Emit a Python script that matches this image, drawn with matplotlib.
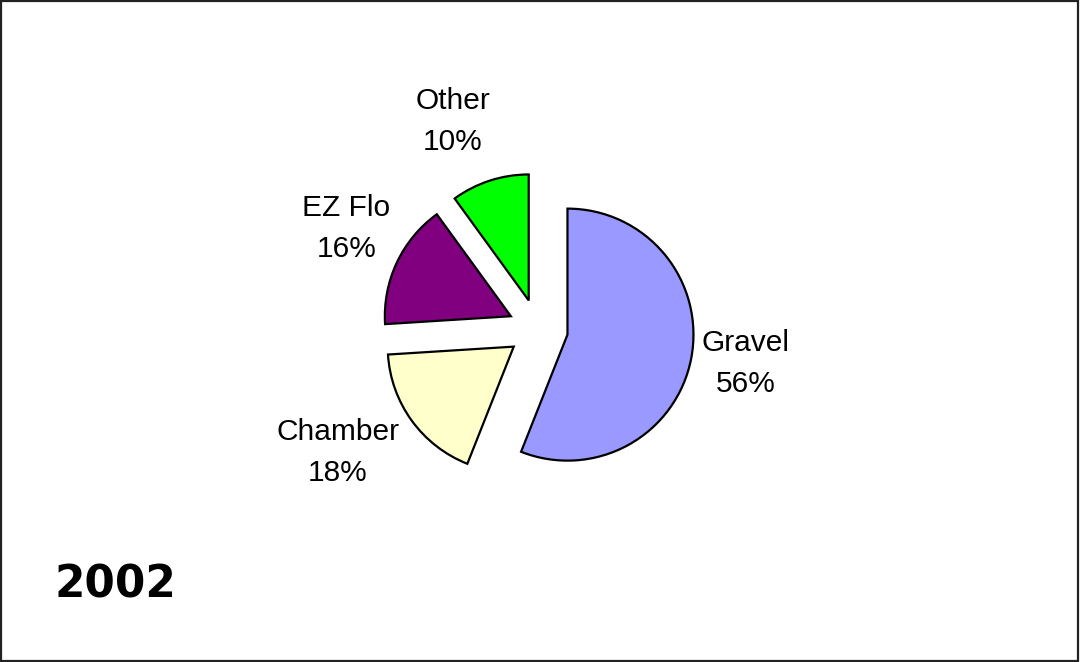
import numpy as np
import matplotlib
matplotlib.use('Agg')
from matplotlib import pyplot as plt
from matplotlib.patches import Rectangle

labels = ['Gravel', 'Chamber', 'EZ Flo', 'Other']
shares = [56, 18, 16, 10]
colors = ['#9999FF', '#FFFFCC', '#800080', '#00FF00']
year = '2002'

# layout in pixel units of a 1080x662 canvas
pie_center = (538, 333)
pie_radius = 126
explode_px = 30
label_dist = [1.43, 1.63, 1.48, 1.54]
label_turn = [1.5, -5.0, -2.8, 5.0]

fig = plt.figure(figsize=(10.8, 6.62), dpi=100)
ax = fig.add_axes([0, 0, 1, 1])

wedges, texts = ax.pie(shares, colors=colors, startangle=90, counterclock=False,
                       center=pie_center, radius=pie_radius,
                       explode=[explode_px] * len(shares),
                       labels=['%s\n%d%%' % (l, s) for l, s in zip(labels, shares)],
                       wedgeprops=dict(edgecolor='black', linewidth=1.6),
                       textprops=dict(family='Liberation Sans', fontsize=21.5, linespacing=1.6))
ax.set_xlim(0, 1080)
ax.set_ylim(0, 662)
ax.set_aspect('equal')
ax.axis('off')

for w, t, d, turn in zip(wedges, texts, label_dist, label_turn):
    th = np.deg2rad(0.5 * (w.theta1 + w.theta2) + turn)
    cx, cy = w.center
    t.set_position((cx + d * pie_radius * np.cos(th), cy + d * pie_radius * np.sin(th)))
    t.set_ha('center')
    t.set_va('center')
    t.set_multialignment('center')

fig.text(55 / 1080, 1 - 598 / 662, year, fontsize=31.5, fontweight='bold',
         family='DejaVu Sans', ha='left', va='baseline')

fig.patches.append(Rectangle((0.001, 0.002), 0.997, 0.996, transform=fig.transFigure,
                             fill=False, edgecolor='#222222', linewidth=1.6))

fig.savefig('out.png', dpi=100)
